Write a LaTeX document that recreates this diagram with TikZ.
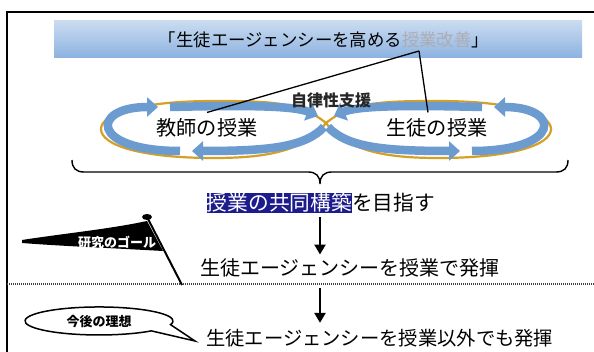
\documentclass[tikz,border=0pt]{standalone}
\usepackage{fontspec}
\newfontfamily\jp{Noto Sans CJK JP}
\usetikzlibrary{arrows.meta,calc}
\definecolor{bandblue}{RGB}{108,155,208}
\definecolor{goldc}{RGB}{212,160,38}
\definecolor{navyhl}{RGB}{28,28,140}
\definecolor{bantop}{RGB}{202,219,240}
\definecolor{banbot}{RGB}{140,178,224}
\definecolor{pale}{RGB}{172,172,178}
\tikzset{
  frameline/.style={line width=2pt},
  bigtxt/.style={font=\jp\fontsize{20.2}{24}\selectfont, inner sep=0pt},
  lbl/.style={font=\jp\bfseries\fontsize{13}{15}\selectfont, inner sep=0pt},
  band/.style={draw=bandblue, line width=8.5pt, -{Triangle[width=19pt,length=11pt]}},
  goldline/.style={draw=goldc, line width=2.2pt},
  leader/.style={line width=1.3pt},
  downarrow/.style={line width=2.4pt, -{Triangle[width=11pt,length=10pt]}},
}
\begin{document}
\begin{tikzpicture}[x=1pt,y=-1pt]
\useasboundingbox (0,0) rectangle (594,352);
\fill[white] (0,0) rectangle (594,352);
% frame
\draw[frameline] (594,12) -- (7,12) -- (7,352);
% banner
\node[minimum width=528pt, minimum height=37pt, inner sep=0pt, top color=bantop, bottom color=banbot] (banner) at (318,39.5) {};
\node[font=\jp\fontsize{17.4}{20}\selectfont, inner sep=0pt] (title) at (324,40) {「生徒エージェンシーを高める\textcolor{pale}{授業改善}」};
\coordinate (apex) at (419,51);
% gold figure eight
\coordinate (cross) at (326,123);
\draw[goldline] (cross) .. controls (300,102) and (270,101) .. (214,101) .. controls (140,101) and (101,114) .. (101,129) .. controls (101,145) and (140,158) .. (214,158) .. controls (270,158) and (305,150) .. (cross)
  .. controls (352,102) and (382,101) .. (438,101) .. controls (512,101) and (551,114) .. (551,129) .. controls (551,145) and (512,158) .. (438,158) .. controls (382,158) and (347,150) .. (cross);
% blue cycle arrows
\draw[band] (170,107) .. controls (250,105) and (295,106) .. (318,116);
\draw[band] (324,127) .. controls (305,147) and (270,151) .. (192,151);
\draw[band] (180,151) .. controls (90,151) and (90,107) .. (158,107);
\draw[band] (482,107) .. controls (402,105) and (357,106) .. (334,116);
\draw[band] (328,127) .. controls (347,147) and (382,151) .. (460,151);
\draw[band] (472,151) .. controls (562,151) and (562,107) .. (494,107);
% loop labels
\node[bigtxt, inner ysep=6pt] (teacher) at (207,128) {教師の授業};
\node[bigtxt, inner ysep=6pt] (student) at (437,128) {生徒の授業};
\node[font=\jp\bfseries\fontsize{16}{18}\selectfont, inner sep=0pt, text=black!85] (support) at (331,100) {自律性支援};
\draw[leader] (apex) -- (teacher.north);
\draw[leader] (apex) -- ($(student.north)+(-9,0)$);
% brace
\coordinate (btip) at (320,184);
\draw[line width=1.4pt] (72,160) .. controls (72,168) and (76,172) .. (84,172) -- (308,172) .. controls (316,172) and (320,176) .. (btip) .. controls (320,176) and (324,172) .. (332,172) -- (556,172) .. controls (564,172) and (568,168) .. (568,160);
% goal line
\node[font=\jp\fontsize{20.7}{24}\selectfont, fill=navyhl, text=white, inner xsep=0pt, inner ysep=0pt, minimum height=20pt, anchor=east] (hl) at (352,203) {授業の共同構築};
\node[font=\jp\fontsize{20.7}{24}\selectfont, inner sep=0pt, anchor=west] (aim) at (hl.east) {を目指す};
% results
\node[bigtxt, font=\jp\fontsize{20}{24}\selectfont, inner ysep=4pt, anchor=west] (res1) at (200,268) {生徒エージェンシーを授業で発揮};
\node[bigtxt, font=\jp\fontsize{19.3}{23}\selectfont, inner ysep=6pt, anchor=west] (res2) at (206,338) {生徒エージェンシーを授業以外でも発揮};
\draw[downarrow] ($(btip |- hl.south)+(0,4)$) -- (btip |- res1.north);
% dotted separator
\coordinate (dl) at (7,284);
\coordinate (dr) at (594,284);
\draw[line width=1.2pt, dash pattern=on 1pt off 1pt, black!75] (dl) -- (dr);
\draw[downarrow] ($(btip |- dl)+(0,4)$) -- (btip |- res2.north);
% flag
\fill (22,240) .. controls (60,234) and (110,229) .. (147,221) -- (163,251) .. controls (110,248) and (60,246) .. (22,243) -- cycle;
\draw[line width=2pt] (147,217) -- (182,285);
\fill (147,217) ellipse [x radius=5, y radius=3];
\node[lbl, text=white] (goal) at (117,242) {研究のゴール};
% speech bubble
\draw[line width=1.5pt, fill=white] (170.5,324.6) arc[start angle=15, end angle=-315, x radius=74, y radius=14] -- (195,341) -- cycle;
\node[lbl] (ideal) at (99,322) {今後の理想};
\end{tikzpicture}
\end{document}
